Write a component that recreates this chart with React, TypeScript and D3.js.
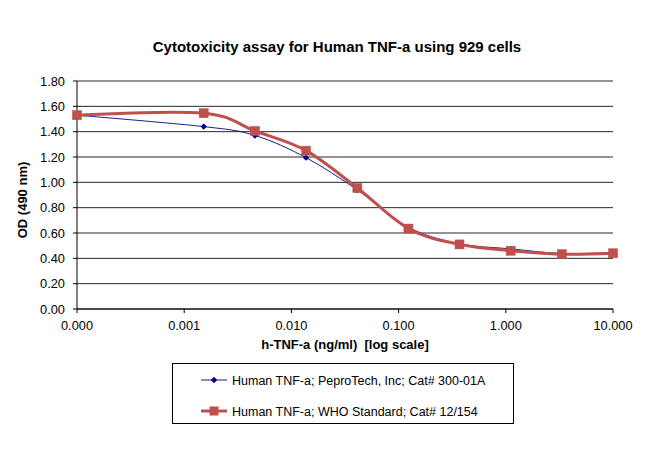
import React from "react";
import * as d3 from "d3";

const concentrations = [0.0001, 0.00152, 0.00457, 0.0137, 0.0412, 0.1235, 0.370, 1.111, 3.333, 10];
const peprotech = [1.53, 1.44, 1.37, 1.195, 0.94, 0.645, 0.515, 0.475, 0.438, 0.446];
const who = [1.53, 1.546, 1.405, 1.25, 0.955, 0.635, 0.51, 0.46, 0.433, 0.44];
const xTicks = [0.0001, 0.001, 0.01, 0.1, 1, 10];
const xTickLabels = ["0.000", "0.001", "0.010", "0.100", "1.000", "10.000"];
const yTicks = [0, 0.2, 0.4, 0.6, 0.8, 1.0, 1.2, 1.4, 1.6, 1.8];
const seriesNames = [
  "Human TNF-a; PeproTech, Inc; Cat# 300-01A",
  "Human TNF-a; WHO Standard; Cat# 12/154",
];

const FONT = "'Liberation Sans', Arial, sans-serif";

export default function App() {
  const W = 650, H = 475;
  const x = d3.scaleLog().domain([0.0001, 10]).range([77, 613]);
  const y = d3.scaleLinear().domain([0, 1.8]).range([309, 81]);
  const line = d3
    .line<[number, number]>()
    .x((d) => x(d[0]))
    .y((d) => y(d[1]))
    .curve(d3.curveCardinal.tension(0));
  const bluePts = concentrations.map((c, i) => [c, peprotech[i]] as [number, number]);
  const redPts = concentrations.map((c, i) => [c, who[i]] as [number, number]);
  const blue = "#1a1a8c";
  const blueMark = "#000080";
  const red = "#c0504d";
  const diamond = (cx: number, cy: number, r: number) =>
    `M${cx},${cy - r}L${cx + r},${cy}L${cx},${cy + r}L${cx - r},${cy}Z`;

  return (
    <svg width={W} height={H} style={{ position: "absolute", left: 0, top: 0, background: "#fff" }}>
      <rect x={0} y={0} width={W} height={H} fill="#fff" />
      <text x={337} y={52} textAnchor="middle" fontFamily={FONT} fontSize={15} fontWeight="bold" fill="#000">
        Cytotoxicity assay for Human TNF-a using 929 cells
      </text>
      {yTicks.map((t) => (
        <g key={t}>
          <line x1={77} x2={613} y1={y(t)} y2={y(t)} stroke="#262626" strokeWidth={1} />
          <line x1={73} x2={77} y1={y(t)} y2={y(t)} stroke="#000" strokeWidth={1} />
          <text x={65} y={y(t) + 4.5} textAnchor="end" fontFamily={FONT} fontSize={12.8} fill="#000">
            {t.toFixed(2)}
          </text>
        </g>
      ))}
      <line x1={77} x2={77} y1={81} y2={309} stroke="#000" strokeWidth={1} />
      <line x1={77} x2={613} y1={309} y2={309} stroke="#000" strokeWidth={1} />
      {xTicks.map((t, i) => (
        <g key={t}>
          <line x1={x(t)} x2={x(t)} y1={309} y2={313} stroke="#000" strokeWidth={1} />
          <text x={x(t)} y={329.5} textAnchor="middle" fontFamily={FONT} fontSize={12.8} fill="#000">
            {xTickLabels[i]}
          </text>
        </g>
      ))}
      <text x={345} y={349} textAnchor="middle" fontFamily={FONT} fontSize={13} fontWeight="bold" fill="#000" style={{ whiteSpace: "pre" }}>
        {"h-TNF-a (ng/ml)  [log scale]"}
      </text>
      <text transform="translate(27,200) rotate(-90)" textAnchor="middle" fontFamily={FONT} fontSize={13} fontWeight="bold" fill="#000">
        OD (490 nm)
      </text>
      <path d={line(bluePts) || ""} fill="none" stroke={blue} strokeWidth={1} />
      <path d={line(redPts) || ""} fill="none" stroke={red} strokeWidth={3} />
      {bluePts.map((p, i) => (
        <path key={"b" + i} d={diamond(x(p[0]), y(p[1]), 3.2)} fill={blueMark} />
      ))}
      {redPts.map((p, i) => (
        <rect key={"r" + i} x={x(p[0]) - 4.5} y={y(p[1]) - 4.5} width={9} height={9} fill={red} stroke="#b84a47" strokeWidth={0.5} />
      ))}
      <rect x={172.5} y={363.5} width={341} height={60} fill="#fff" stroke="#000" strokeWidth={1} />
      <line x1={201} x2={227} y1={380} y2={380} stroke={blue} strokeWidth={1} />
      <path d={diamond(214, 380, 3.2)} fill={blueMark} />
      <text x={232} y={384.5} fontFamily={FONT} fontSize={12.5} fill="#000">{seriesNames[0]}</text>
      <line x1={201} x2={227} y1={411} y2={411} stroke={red} strokeWidth={3} />
      <rect x={209.5} y={406.5} width={9} height={9} fill={red} />
      <text x={232} y={415.5} fontFamily={FONT} fontSize={12.5} fill="#000">{seriesNames[1]}</text>
    </svg>
  );
}
